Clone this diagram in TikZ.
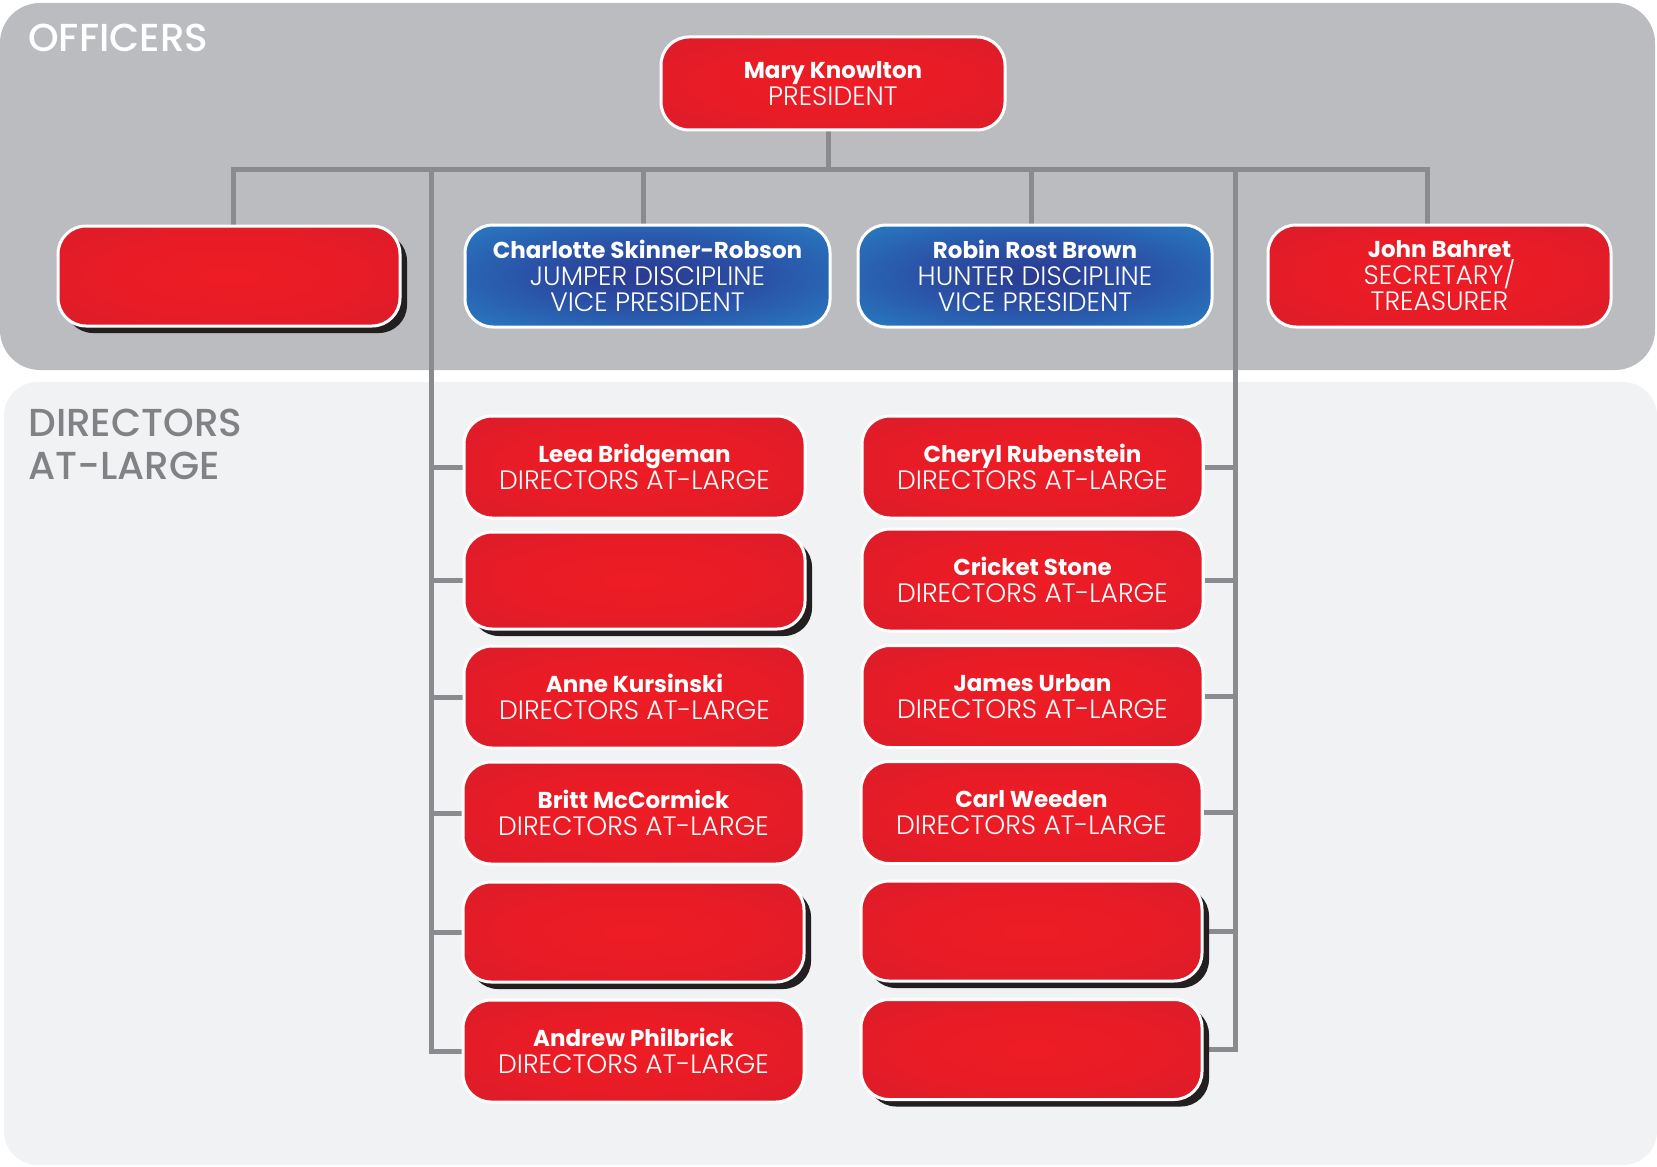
\documentclass[tikz,border=0pt]{standalone}
\usepackage{fontspec}
\setmainfont{Poppins}
\newfontfamily\lightfont{Poppins Light}
\newfontfamily\medfont{Poppins Medium}
\usetikzlibrary{shadows}
\definecolor{offgray}{HTML}{BBBCC0}
\definecolor{dirpanel}{HTML}{F1F2F4}
\definecolor{linegray}{HTML}{8A8B8E}
\definecolor{labgray}{HTML}{808285}
\definecolor{shadowc}{HTML}{231F20}
\definecolor{rc0}{HTML}{EE1C25}
\definecolor{rc1}{HTML}{E81C26}
\definecolor{rc2}{HTML}{D61D2B}
\definecolor{rc3}{HTML}{BF1A2E}
\definecolor{bc0}{HTML}{2A3A91}
\definecolor{bc1}{HTML}{2A52A6}
\definecolor{bc2}{HTML}{2880C6}
\definecolor{bc3}{HTML}{2EA2DC}
\pgfdeclareradialshading{redgrad}{\pgfpoint{0bp}{0bp}}{color(0bp)=(rc0); color(18bp)=(rc1); color(42bp)=(rc2); color(66bp)=(rc3)}
\pgfdeclareradialshading{bluegrad}{\pgfpoint{0bp}{0bp}}{color(0bp)=(bc0); color(16bp)=(bc1); color(38bp)=(bc2); color(60bp)=(bc3)}
\pgfdeclarelayer{back}
\pgfdeclarelayer{mid}
\pgfsetlayers{back,mid,main}
\newcommand\pname[1]{{\bfseries #1}}
\newcommand\ptitle[1]{{\lightfont\fontsize{13.3}{13.25}\selectfont #1}}
\tikzset{
  box/.style={rectangle, rounded corners=14pt, draw=white, line width=1.5pt,
    minimum width=170.5pt, minimum height=51pt, inner sep=0pt, text=white,
    align=center, font=\fontsize{11.5}{13.25}\selectfont},
  redbox/.style={box, shade, shading=redgrad},
  bluebox/.style={box, shade, shading=bluegrad},
  vacant/.style={redbox, drop shadow={shadow xshift=3.5pt, shadow yshift=-3.5pt, fill=shadowc, opacity=1}},
  conn/.style={draw=linegray, line width=2.5pt},
  panellabel/.style={anchor=base west, inner sep=0pt, align=left}
}
\begin{document}
\begin{tikzpicture}[x=0.5pt, y=-0.5pt]
\useasboundingbox (0,0) rectangle (1657,1166);
\begin{pgfonlayer}{back}
  \fill[offgray, rounded corners=20pt] (0,3) rectangle (1655,370);
  \fill[dirpanel, rounded corners=17pt] (4,382) rectangle (1657,1165);
\end{pgfonlayer}
\node[panellabel, text=white, font=\medfont\fontsize{19.5}{21.5}\selectfont] (lofficers) at (28,52) {OFFICERS};
\node[panellabel, text=labgray, font=\medfont\fontsize{19.5}{21.5}\selectfont] (ldirectors) at (28,479) {DIRECTORS\\AT-LARGE};
% officers
\node[redbox, minimum width=172pt, minimum height=46.5pt] (pres) at (833,83.5) {\pname{Mary Knowlton}\\\ptitle{PRESIDENT}};
\node[vacant, minimum width=171pt, minimum height=50pt] (o1) at (229,276) {};
\node[bluebox, minimum width=182.5pt] (vp1) at (647.5,276) {\pname{Charlotte Skinner-Robson}\\\ptitle{JUMPER DISCIPLINE}\\\ptitle{VICE PRESIDENT}};
\node[bluebox, minimum width=177pt] (vp2) at (1035,276) {\pname{Robin Rost Brown}\\\ptitle{HUNTER DISCIPLINE}\\\ptitle{VICE PRESIDENT}};
\node[redbox, minimum width=171.5pt] (sec) at (1439.5,276) {\pname{John Bahret}\\\ptitle{SECRETARY/}\\\ptitle{TREASURER}};
% directors left
\node[redbox] (dl1) at (634.5,467) {\pname{Leea Bridgeman}\\\ptitle{DIRECTORS AT-LARGE}};
\node[vacant, minimum height=48.5pt] (dl2) at (634.5,580.5) {};
\node[redbox] (dl3) at (634.5,697) {\pname{Anne Kursinski}\\\ptitle{DIRECTORS AT-LARGE}};
\node[redbox] (dl4) at (633.5,813) {\pname{Britt McCormick}\\\ptitle{DIRECTORS AT-LARGE}};
\node[vacant, minimum height=50pt] (dl5) at (633.5,932) {};
\node[redbox] (dl6) at (633.5,1051) {\pname{Andrew Philbrick}\\\ptitle{DIRECTORS AT-LARGE}};
% directors right
\node[redbox] (dr1) at (1032.5,467) {\pname{Cheryl Rubenstein}\\\ptitle{DIRECTORS AT-LARGE}};
\node[redbox] (dr2) at (1032.5,580) {\pname{Cricket Stone}\\\ptitle{DIRECTORS AT-LARGE}};
\node[redbox] (dr3) at (1032.5,696.5) {\pname{James Urban}\\\ptitle{DIRECTORS AT-LARGE}};
\node[redbox] (dr4) at (1031.5,812.5) {\pname{Carl Weeden}\\\ptitle{DIRECTORS AT-LARGE}};
\node[vacant, minimum height=50pt] (dr5) at (1031.5,931) {};
\node[vacant, minimum height=50pt] (dr6) at (1031.5,1049.5) {};
% connectors
\coordinate (bus) at (0,170);
\coordinate (lb) at (431,0);
\coordinate (rb) at (1235,0);
\coordinate (t0) at ([xshift=-2.5pt]pres.south);
\coordinate (t1) at ([xshift=2pt]o1.north);
\coordinate (t2) at ([xshift=-2.25pt]vp1.north);
\coordinate (t3) at ([xshift=-2pt]vp2.north);
\coordinate (t4) at ([xshift=-6pt]sec.north);
\begin{pgfonlayer}{mid}
  \draw[conn] (t0) -- (t0 |- bus);
  \draw[conn] (t1) -- (t1 |- bus) -- (t4 |- bus) -- (t4);
  \draw[conn] (t2) -- (t2 |- bus);
  \draw[conn] (t3) -- (t3 |- bus);
  \draw[conn] (lb |- bus) -- (lb |- dl6.west) -- (dl6.west);
  \draw[conn] (rb |- bus) -- (rb |- dr6.east) -- (dr6.east);
  \foreach \i in {1,...,5} {
    \draw[conn] (lb |- dl\i.west) -- (dl\i.west);
    \draw[conn] (rb |- dr\i.east) -- (dr\i.east);
  }
\end{pgfonlayer}
\end{tikzpicture}
\end{document}
